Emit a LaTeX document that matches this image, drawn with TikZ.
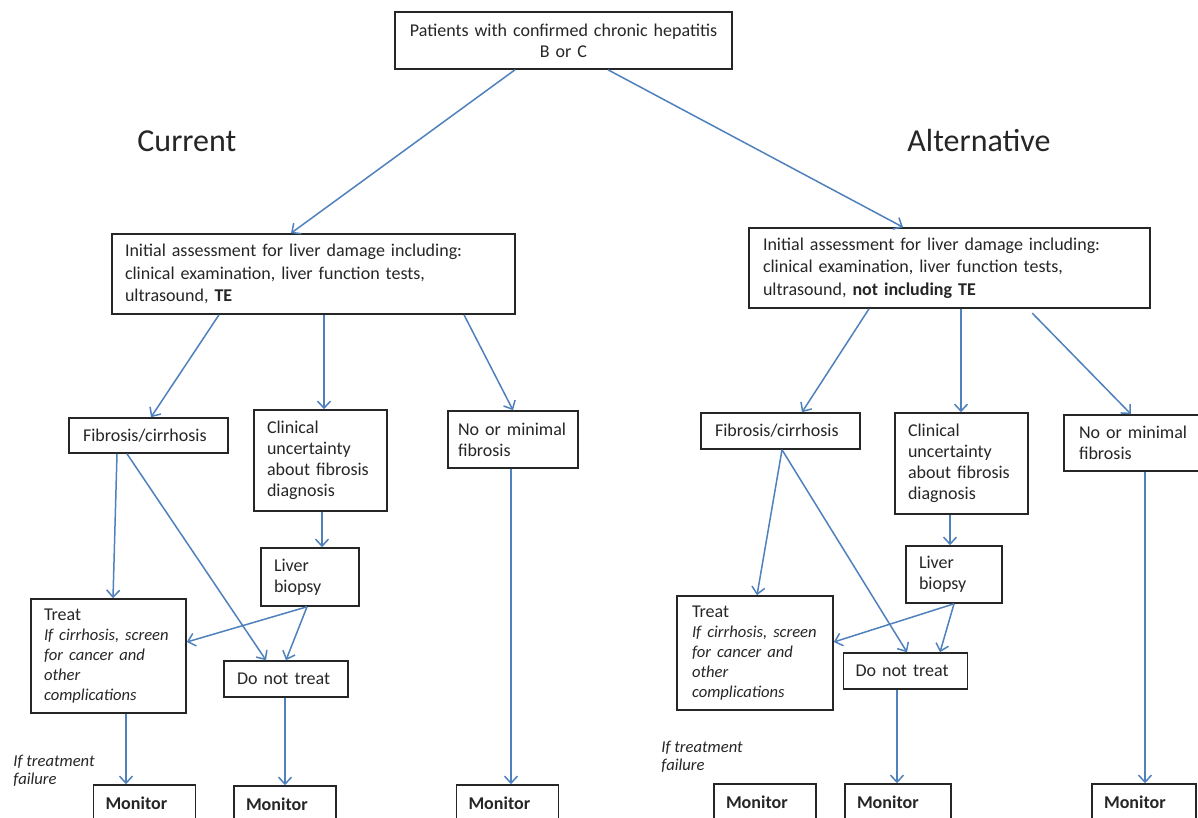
\documentclass[tikz,border=0pt]{standalone}
\usepackage{fontspec}
\setmainfont{Carlito}
\usetikzlibrary{arrows.meta}
\definecolor{flowblue}{RGB}{79,129,189}
\definecolor{ink}{RGB}{38,38,38}

\begin{document}
\begin{tikzpicture}[x=0.5pt, y=-0.5pt,
    box/.style={draw=ink, line width=0.8pt, text=ink, inner xsep=6.5pt, inner ysep=0pt,
        align=left, font=\fontsize{9}{10.5}\selectfont},
    monbox/.style={box, text width=39pt, inner xsep=6pt, minimum height=18pt,
        font=\fontsize{9}{10.5}\selectfont\bfseries},
    flow/.style={draw=flowblue, line width=0.75pt, -{Straight Barb[length=3.5pt,width=6.5pt]}},
    head/.style={text=ink, inner sep=0pt, font=\fontsize{16}{19}\selectfont},
    note/.style={text=ink, inner sep=0pt, align=left, font=\fontsize{8.3}{9}\selectfont\itshape}]

    \useasboundingbox (0,0) rectangle (1198,818);
    \clip (0,0) rectangle (1198,818);
    \fill[white] (0,0) rectangle (1198,818);

    % Top box and the two headings
    \node[box, align=center, text width=155.5pt, minimum height=28.5pt] (patients) at (563.5,40.5)
        {Patients with confirmed chronic hepatitis\\ B or C};
    \node[head, anchor=base west] (current) at (137,152) {Current};
    \node[head, anchor=base west] (alternative) at (907,152) {Alternative};

    % Current pathway
    \node[box, text width=188.5pt, minimum height=40pt, font=\fontsize{9}{11.2}\selectfont] (assessL) at (313.5,274)
        {Initial assessment for liver damage including:\\ clinical examination, liver function tests,\\ ultrasound, \textbf{TE}};
    \node[box, text width=65.5pt, inner xsep=7pt, minimum height=17.5pt] (fibL) at (148.5,435.5) {Fibrosis/cirrhosis};
    \node[box, text width=53.5pt, minimum height=50.5pt] (uncL) at (320.5,460.5)
        {Clinical\\ uncertainty\\ about fibrosis\\ diagnosis};
    \node[box, text width=55pt, inner xsep=5pt, minimum height=28.5pt] (minL) at (513,439.5) {No or minimal\\ fibrosis};
    \node[box, text width=36pt, minimum height=29pt] (biopsyL) at (310,577) {Liver\\ biopsy};
    \node[box, text width=64.5pt, minimum height=57pt, font=\fontsize{9}{10}\selectfont] (treatL) at (108.5,656)
        {Treat\\ \fontsize{8.3}{10}\selectfont\itshape If cirrhosis, screen\\ for cancer and\\ other\\ complications};
    \node[box, text width=49pt, minimum height=18pt] (notreatL) at (286,679) {Do not treat};
    \node[monbox] (monTreatL) at (144.5,803) {Monitor};
    \node[monbox] (monNotreatL) at (285,804) {Monitor};
    \node[monbox] (monMinL) at (507.5,803) {Monitor};
    \node[note, anchor=west] (failL) at (13,770.5) {If treatment\\ failure};

    % Alternative pathway
    \node[box, text width=186.5pt, inner xsep=7pt, minimum height=40pt, font=\fontsize{9}{11.2}\selectfont] (assessR) at (949.5,268)
        {Initial assessment for liver damage including:\\ clinical examination, liver function tests,\\ ultrasound, \textbf{not including TE}};
    \node[box, text width=65.5pt, inner xsep=7pt, minimum height=18pt] (fibR) at (780.5,431) {Fibrosis/cirrhosis};
    \node[box, text width=53.5pt, minimum height=50.5pt] (uncR) at (961.5,463.5)
        {Clinical\\ uncertainty\\ about fibrosis\\ diagnosis};
    \node[box, text width=55.5pt, inner xsep=7.5pt, minimum height=28pt] (minR) at (1134.5,443) {No or minimal\\ fibrosis};
    \node[box, text width=35pt, minimum height=28.5pt] (biopsyR) at (954,574.5) {Liver\\ biopsy};
    \node[box, text width=63pt, inner xsep=7.5pt, minimum height=57pt, font=\fontsize{9}{10}\selectfont] (treatR) at (755,653)
        {Treat\\ \fontsize{8.3}{10}\selectfont\itshape If cirrhosis, screen\\ for cancer and\\ other\\ complications};
    \node[box, text width=50pt, inner xsep=6pt, minimum height=18pt] (notreatR) at (905.5,671) {Do not treat};
    \node[monbox] (monTreatR) at (765,802) {Monitor};
    \node[monbox, text width=41pt] (monNotreatR) at (898,802) {Monitor};
    \node[monbox, text width=40pt] (monMinR) at (1144,802) {Monitor};
    \node[note, anchor=west] (failR) at (661,756.5) {If treatment\\ failure};

    % Arrows from the top box
    \draw[flow] (patients.south -| 515,0) -- (assessL.north -| 291,0);
    \draw[flow] (patients.south -| 608,0) -- (assessR.north -| 903,0);

    % Arrows, current
    \draw[flow] (assessL.south -| 219,0) -- (fibL.north -| 151,0);
    \draw[flow] (assessL.south -| 324,0) -- (uncL.north -| 324,0);
    \draw[flow] (assessL.south -| 464,0) -- (minL.north -| 513,0);
    \draw[flow] (fibL.south -| 117,0) -- (treatL.north -| 113,0);
    \draw[flow] (fibL.south -| 127,0) -- (notreatL.north -| 266,0);
    \draw[flow] (uncL.south -| 322,0) -- (biopsyL.north -| 322,0);
    \draw[flow] (biopsyL.south -| 307,0) -- (treatL.east |- 0,642);
    \draw[flow] (biopsyL.south -| 307,0) -- (notreatL.north -| 286,0);
    \draw[flow] (treatL.south -| 126,0) -- (monTreatL.north -| 126,0);
    \draw[flow] (notreatL.south -| 285,0) -- (monNotreatL.north -| 285,0);
    \draw[flow] (minL.south -| 511,0) -- (monMinL.north -| 511,0);

    % Arrows, alternative
    \draw[flow] (assessR.south -| 869,0) -- (fibR.north -| 802,0);
    \draw[flow] (assessR.south -| 961,0) -- (uncR.north -| 961,0);
    \draw[flow, shorten <=3pt] (assessR.south -| 1028,0) -- (minR.north -| 1131,0);
    \draw[flow] (fibR.south -| 782,0) -- (treatR.north -| 757,0);
    \draw[flow] (fibR.south -| 782,0) -- (notreatR.north -| 907,0);
    \draw[flow] (uncR.south -| 950,0) -- (biopsyR.north -| 950,0);
    \draw[flow] (biopsyR.south) -- (treatR.east |- 0,642);
    \draw[flow] (biopsyR.south) -- (notreatR.north -| 940,0);
    \draw[flow] (notreatR.south -| 897,0) -- (monNotreatR.north -| 897,0);
    \draw[flow] (minR.south -| 1145,0) -- (monMinR.north -| 1145,0);
\end{tikzpicture}
\end{document}
